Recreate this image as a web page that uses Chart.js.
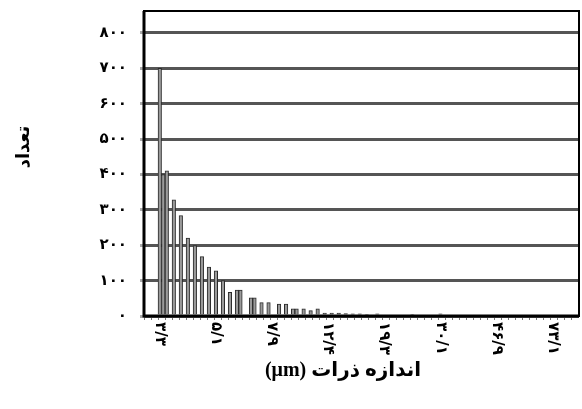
<!DOCTYPE html>
<html>
<head>
<meta charset="utf-8">
<script src="https://cdn.jsdelivr.net/npm/chart.js@4.4.1/dist/chart.umd.min.js"></script>
<style>
  html, body { margin: 0; padding: 0; background: #fff; }
</style>
</head>
<body>
<canvas id="c" width="582" height="409"></canvas>
<script>
// Particle size bins (log-spaced channels) and the number of particles in each
const bins = Array.from({ length: 124 }, (_, i) => i);
const counts = [
  0, 0, 0, 0, 700, 400, 410, 0, 328, 0,
  284, 0, 220, 0, 199, 0, 168, 0, 138, 0,
  128, 0, 100, 0, 67, 0, 73, 73, 0, 0,
  51, 51, 0, 38, 0, 38, 0, 0, 34, 0,
  34, 0, 20, 20, 0, 20, 0, 15, 0, 20,
  0, 8, 0, 8, 0, 8, 0, 7, 0, 6,
  0, 6, 0, 5, 0, 0, 6, 0, 0, 0,
  0, 0, 0, 0, 0, 0, 5, 0, 0, 0,
  0, 0, 0, 0, 6, 0, 0, 0, 0, 0,
  0, 0, 0, 0, 0, 0, 0, 0, 0, 0,
  0, 0, 0, 0, 0, 0, 0, 0, 0, 0,
  0, 0, 0, 0, 0, 0, 0, 0, 0, 0,
  0, 0, 0, 0
];

// Size labels (µm) shown under the axis, and the bins they sit on
const labelBins = [4, 20, 36, 52, 68, 84, 100, 116];
const sizeLabels = ['۳/۳', '۵/۱', '۷/۹', '۱۲/۴', '۱۹/۳', '۳۰/۱', '۴۶/۹', '۷۳/۱'];

// Count axis
const yTicks = [0, 100, 200, 300, 400, 500, 600, 700, 800];
const yMax = 862;

const xTitle = 'اندازه ذرات (μm)';
const yTitle = 'تعداد';

const faDigits = '۰۱۲۳۴۵۶۷۸۹';
const toFa = (n) => String(n).replace(/[0-9]/g, (d) => faDigits[+d]);

const FONT = '"DejaVu Sans", sans-serif';
const TITLE_FONT = '"Liberation Serif", "DejaVu Sans", serif';

const decorations = {
  id: 'decorations',
  afterDraw(chart) {
    const { ctx, chartArea: a, scales: { x } } = chart;
    ctx.save();
    // plot frame
    ctx.strokeStyle = '#000';
    ctx.lineWidth = 2;
    ctx.strokeRect(a.left, a.top, a.right - a.left, a.bottom - a.top);
    ctx.lineWidth = 3;
    ctx.beginPath();
    ctx.moveTo(a.left, a.top);
    ctx.lineTo(a.left, a.bottom);
    ctx.lineTo(a.right, a.bottom);
    ctx.stroke();

    // size labels, turned to read downward
    ctx.fillStyle = '#000';
    ctx.font = 'bold 15px ' + FONT;
    ctx.textAlign = 'left';
    ctx.textBaseline = 'middle';
    labelBins.forEach((bin, i) => {
      const px = x.getPixelForValue(bin);
      ctx.save();
      ctx.translate(px, a.bottom + 6);
      ctx.rotate(Math.PI / 2);
      ctx.fillText(sizeLabels[i], 0, 0);
      ctx.restore();
    });

    // axis titles
    ctx.direction = 'rtl';
    ctx.font = 'bold 20px ' + TITLE_FONT;
    ctx.textAlign = 'center';
    ctx.textBaseline = 'middle';
    ctx.fillText(xTitle, a.left + 199, a.bottom + 55);

    ctx.font = 'bold 18px ' + TITLE_FONT;
    ctx.save();
    ctx.translate(24, 147);
    ctx.rotate(-Math.PI / 2);
    ctx.fillText(yTitle, 0, 0);
    ctx.restore();

    ctx.restore();
  }
};

new Chart(document.getElementById('c'), {
  type: 'bar',
  data: {
    labels: bins,
    datasets: [{
      data: counts,
      backgroundColor: '#9a9a9a',
      borderColor: '#2a2a2a',
      borderWidth: 1,
      barPercentage: 1,
      categoryPercentage: 1
    }]
  },
  options: {
    responsive: false,
    animation: false,
    devicePixelRatio: 1,
    layout: { padding: { top: 11, right: 3, left: 0, bottom: 0 } },
    plugins: {
      legend: { display: false },
      tooltip: { enabled: false }
    },
    scales: {
      x: {
        offset: true,
        border: { display: false },
        grid: {
          drawOnChartArea: false,
          drawTicks: true,
          tickLength: 4,
          color: (c) => (c.index % 2 === 0 ? '#777' : 'rgba(0,0,0,0)')
        },
        ticks: { display: false },
        afterFit: (s) => { s.height = 93; s.paddingLeft = 0; s.paddingRight = 0; }
      },
      y: {
        min: 0,
        max: yMax,
        z: 1,
        border: { display: false },
        afterBuildTicks: (s) => { s.ticks = yTicks.map((v) => ({ value: v })); },
        afterFit: (s) => { s.width = 144; s.paddingTop = 0; s.paddingBottom = 0; },
        grid: {
          color: '#555',
          lineWidth: 3,
          tickLength: 4,
          tickColor: '#aaa'
        },
        ticks: {
          color: '#000',
          padding: 13,
          font: { family: FONT, size: 15, weight: 'bold' },
          callback: (v) => toFa(v)
        }
      }
    }
  },
  plugins: [decorations]
});
</script>
</body>
</html>
